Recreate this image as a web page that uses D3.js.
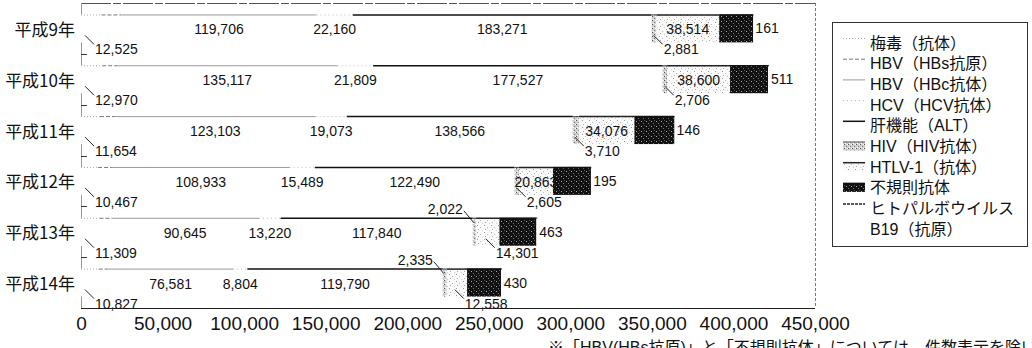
<!DOCTYPE html>
<html><head><meta charset="utf-8">
<script src="https://cdn.jsdelivr.net/npm/d3@7"></script>
<style>
html,body{margin:0;padding:0;background:#fff;overflow:hidden}
svg{display:block;font-family:"Liberation Sans","Noto Sans CJK JP",sans-serif}
</style></head>
<body><svg id="c" width="1032" height="348"></svg>
<script>
// ---- data ----
const years = ["平成9年","平成10年","平成11年","平成12年","平成13年","平成14年"];
const seriesNames = ["梅毒（抗体）","HBV（HBs抗原）","HBV（HBc抗体）","HCV（HCV抗体）","肝機能（ALT）","HIV（HIV抗体）","HTLV-1（抗体）","不規則抗体","ヒトパルボウイルス|B19（抗原）"];
const syphilis  = [12525, 12970, 11654, 10467, 11309, 10827];
const hbs       = [12200, 9200, 9100, 8500, 7200, 5800];      // not labelled
const hbc       = [119706, 135117, 123103, 108933, 90645, 76581];
const hcv       = [22160, 21809, 19073, 15489, 13220, 8804];
const alt       = [183271, 177527, 138566, 122490, 117840, 119790];
const hiv       = [2881, 2706, 3710, 2605, 2022, 2335];
const htlv      = [38514, 38600, 34076, 20863, 14301, 12558];
const irregular = [20800, 23300, 24500, 23300, 22700, 20800]; // not labelled
const b19       = [161, 511, 146, 195, 463, 430];
const xTicks = [0,50000,100000,150000,200000,250000,300000,350000,400000,450000];
const footnote = "※「HBV(HBs抗原)」と「不規則抗体」については、件数表示を除いています。";

const seriesData = [syphilis,hbs,hbc,hcv,alt,hiv,htlv,irregular,b19];
const labelMode = ["leader","none","center","center","center","small","big","none","end"];

// ---- styles ----
const svg = d3.select("#c");
const defs = svg.append("defs");
function pat(id, size, bg, dots){
  const p = defs.append("pattern").attr("id",id).attr("width",size).attr("height",size).attr("patternUnits","userSpaceOnUse");
  p.append("rect").attr("width",size).attr("height",size).attr("fill",bg);
  dots.forEach(d=>p.append("rect").attr("x",d[0]).attr("y",d[1]).attr("width",1).attr("height",1).attr("fill",d[2]));
}
pat("pHIV",4,"#cfcfcf",[[0,0,"#555"],[2,2,"#777"],[3,0,"#fff"],[1,3,"#fff"]]);
pat("pHTLV",7,"#fafafa",[[1,1,"#999"],[4,3,"#bbb"],[2,5,"#aaa"],[6,6,"#ccc"]]);
pat("pIrr",5,"#111",[[1,1,"#aaa"],[3,3,"#777"],[4,0,"#555"]]);
const segStyle = [
  {fill:"#fff", top:"#aaa", dash:"1,2"},
  {fill:"#fff", top:"#777", dash:"4,2"},
  {fill:"#fff", top:"#999", dash:null},
  {fill:"#fff", top:"#bbb", dash:"1,3"},
  {fill:"#fff", top:"#111", dash:null},
  {fill:"url(#pHIV)", top:"#444", dash:null},
  {fill:"url(#pHTLV)", top:"#222", dash:null},
  {fill:"url(#pIrr)", top:"#111", dash:null},
  {fill:"#fff", top:"#222", dash:"3,1"}
];
const JP = '"Noto Sans CJK JP",sans-serif';
const LAT = '"Liberation Sans","Noto Sans CJK JP",sans-serif';

// ---- layout ----
const L = 81, R = 815, T = 3, B = 308;
const x = d3.scaleLinear().domain([0,450000]).range([L,R]);
const y = d3.scaleBand().domain(years).range([T,B]).paddingInner(0.45).paddingOuter(0.225);

// frame
svg.append("line").attr("x1",L).attr("x2",R).attr("y1",T+0.5).attr("y2",T+0.5).attr("stroke","#555").attr("stroke-dasharray","30,2,8,2");
svg.append("line").attr("x1",R+0.5).attr("x2",R+0.5).attr("y1",T).attr("y2",B).attr("stroke","#777").attr("stroke-dasharray","3,2");
svg.append("line").attr("x1",L).attr("x2",R).attr("y1",B+0.5).attr("y2",B+0.5).attr("stroke","#222");
svg.append("line").attr("x1",L+0.5).attr("x2",L+0.5).attr("y1",T).attr("y2",B).attr("stroke","#999");
years.slice(1).forEach(yr=>{
  const yy = y(yr) - y.step()*y.paddingInner()/2;
  svg.append("line").attr("x1",L).attr("x2",L+6).attr("y1",Math.round(yy)+0.5).attr("y2",Math.round(yy)+0.5).attr("stroke","#333");
});

// stack
const rows = years.map((yr,i)=>{
  const o = {year:yr};
  seriesData.forEach((s,k)=>o["s"+k]=s[i]);
  return o;
});
const keys = seriesData.map((s,k)=>"s"+k);
const stacked = d3.stack().keys(keys)(rows);

const fmt = d3.format(",");
const gBars = svg.append("g");
const gLab = svg.append("g").attr("font-size","14px").attr("fill","#111").attr("font-family",LAT);

stacked.forEach((layer,k)=>{
  const st = segStyle[k];
  layer.forEach((d,i)=>{
    const yr = years[i];
    const x0 = x(d[0]), x1 = x(d[1]), yt = y(yr), h = y.bandwidth();
    gBars.append("rect").attr("x",x0).attr("y",yt).attr("width",Math.max(0,x1-x0)).attr("height",h).attr("fill",st.fill);
    gBars.append("line").attr("x1",x0).attr("x2",x1).attr("y1",yt+0.5).attr("y2",yt+0.5)
      .attr("stroke",st.top).attr("stroke-width",k===4||k>=6?1.5:1).attr("stroke-dasharray",st.dash);
  });
});

// labels
stacked.forEach((layer,k)=>{
  const mode = labelMode[k];
  layer.forEach((d,i)=>{
    const yr = years[i];
    const v = d[1]-d[0];
    const x0 = x(d[0]), x1 = x(d[1]), yt = y(yr), yb = yt + y.bandwidth(), yc = yt + y.bandwidth()/2;
    const narrowBig = (x(htlv[i]) - x(0)) < 30;
    function leaderBelow(xs){
      gLab.append("line").attr("x1",xs).attr("y1",yb-7).attr("x2",xs+9).attr("y2",yb+2).attr("stroke","#222");
      gLab.append("text").attr("x",xs+10).attr("y",yb+7).attr("dominant-baseline","central").text(fmt(v));
    }
    function leaderAbove(xs){
      gLab.append("line").attr("x1",xs-9).attr("y1",yt-7).attr("x2",xs+1).attr("y2",yt+5).attr("stroke","#222");
      gLab.append("text").attr("x",xs-10).attr("y",yt-9).attr("text-anchor","end").attr("dominant-baseline","central").text(fmt(v));
    }
    if(mode==="leader") leaderBelow(x0+4);
    else if(mode==="center" || (mode==="big" && !narrowBig))
      gLab.append("text").attr("x",(x0+x1)/2).attr("y",yc+1).attr("text-anchor","middle").attr("dominant-baseline","central").text(fmt(v));
    else if(mode==="big" && narrowBig) leaderBelow((x0+x1)/2 - 2);
    else if(mode==="small"){ if(narrowBig) leaderAbove(x0); else leaderBelow(x0+2); }
    else if(mode==="end")
      gLab.append("text").attr("x",x1+2).attr("y",yc).attr("dominant-baseline","central").text(fmt(v));
  });
});

// year labels
svg.append("g").selectAll("text").data(years).join("text")
  .attr("x",75).attr("y",d=>y(d)+y.bandwidth()/2).attr("text-anchor","end").attr("dominant-baseline","central")
  .attr("font-family",JP).attr("font-size","17px").attr("fill","#111").text(d=>d);

// x axis
const ax = svg.append("g").attr("transform",`translate(0,${B})`)
  .call(d3.axisBottom(x).tickValues(xTicks).tickFormat(fmt).tickSize(0));
ax.select(".domain").remove();
ax.selectAll("text").attr("y",15).attr("dy",null).attr("dominant-baseline","central")
  .attr("font-size","19px").attr("font-family",LAT).attr("fill","#111");

// legend
const lg = svg.append("g").attr("font-family",LAT);
const lx = 832, ly = 22, lw = 195, step = 20.7, first = 43;
lg.append("rect").attr("x",lx+0.5).attr("y",ly+0.5).attr("width",lw).attr("height",224).attr("fill","#fff").attr("stroke","#333");
seriesNames.forEach((nm,k)=>{
  const cy = first + k*step;
  const st = segStyle[k];
  if(k>=5){
    lg.append("rect").attr("x",843).attr("y",cy-4).attr("width",22).attr("height",8).attr("fill",st.fill);
  }
  lg.append("line").attr("x1",843).attr("x2",865).attr("y1",cy-4.5).attr("y2",cy-4.5).attr("stroke",st.top)
    .attr("stroke-width",k===4||k>=6?1.5:1).attr("stroke-dasharray",st.dash);
  nm.split("|").forEach((p,j)=>{
    lg.append("text").attr("x",870).attr("y",cy + j*step).attr("dominant-baseline","central")
      .attr("font-size","16px").attr("fill","#111").text(p);
  });
});

// footnote (clipped by the picture edge, as in the source)
svg.append("text").attr("x",548).attr("y",347).attr("dominant-baseline","central").attr("font-family",LAT)
  .attr("font-size","16px").attr("fill","#111").text(footnote);
</script></body></html>
